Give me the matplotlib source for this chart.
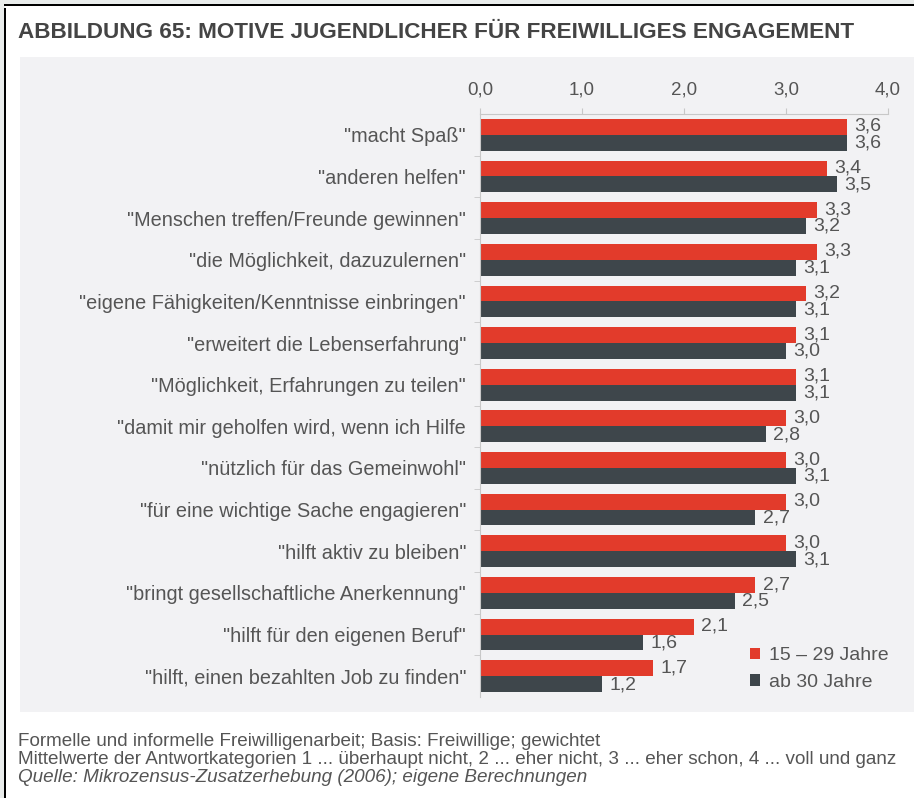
import matplotlib
matplotlib.use("Agg")
import matplotlib.pyplot as plt
from matplotlib.patches import Rectangle

plt.rcParams['font.family'] = ['Liberation Sans', 'DejaVu Sans']

categories = [
    '"macht Spaß"',
    '"anderen helfen"',
    '"Menschen treffen/Freunde gewinnen"',
    '"die Möglichkeit, dazuzulernen"',
    '"eigene Fähigkeiten/Kenntnisse einbringen"',
    '"erweitert die Lebenserfahrung"',
    '"Möglichkeit, Erfahrungen zu teilen"',
    '"damit mir geholfen wird, wenn ich Hilfe',
    '"nützlich für das Gemeinwohl"',
    '"für eine wichtige Sache engagieren"',
    '"hilft aktiv zu bleiben"',
    '"bringt gesellschaftliche Anerkennung"',
    '"hilft für den eigenen Beruf"',
    '"hilft, einen bezahlten Job zu finden"',
]
jung = [3.6, 3.4, 3.3, 3.3, 3.2, 3.1, 3.1, 3.0, 3.0, 3.0, 3.0, 2.7, 2.1, 1.7]
alt = [3.6, 3.5, 3.2, 3.1, 3.1, 3.0, 3.1, 2.8, 3.1, 2.7, 3.1, 2.5, 1.6, 1.2]
xticks = [0, 1, 2, 3, 4]

red = '#e23b2b'
dark = '#3e464b'
textc = '#555555'

W, H = 914, 798
fig = plt.figure(figsize=(W / 100, H / 100), dpi=100)
fig.patch.set_facecolor('#e9eceb')

# white card with black border, grey chart panel (behind the axes)
fig.add_artist(Rectangle((5 / W, 0), 1, 1 - 5 / H, transform=fig.transFigure,
                         facecolor='white', edgecolor='none', zorder=-10))
fig.add_artist(Rectangle((4 / W, -0.01), 2 / W, 1, transform=fig.transFigure,
                         facecolor='black', edgecolor='none', zorder=-9))
fig.add_artist(Rectangle((4 / W, 1 - 6 / H), 1, 2 / H, transform=fig.transFigure,
                         facecolor='black', edgecolor='none', zorder=-9))
fig.add_artist(Rectangle((20 / W, 1 - 712 / H), 1, (712 - 57) / H, transform=fig.transFigure,
                         facecolor='#f2f2f4', edgecolor='none', zorder=-9))

fig.text(18 / W, 1 - 33 / H, 'ABBILDUNG 65: MOTIVE JUGENDLICHER FÜR FREIWILLIGES ENGAGEMENT',
         fontsize=16.2, fontweight='bold', color='#444444', va='center', ha='left')

ax = fig.add_axes([480 / W, 1 - 697 / H, (888 - 480) / W, (697 - 114) / H])
ax.set_facecolor('none')
y = list(range(len(categories)))
h = 0.38
ax.barh([v - 0.19 for v in y], jung, height=h, color=red, label='15 – 29 Jahre')
ax.barh([v + 0.19 for v in y], alt, height=h, color=dark, label='ab 30 Jahre')

for i in y:
    ax.text(jung[i] + 0.07, i - 0.2, f'{jung[i]:.1f}'.replace('.', ','),
            va='center', ha='left', fontsize=14, color=textc)
    ax.text(alt[i] + 0.07, i + 0.2, f'{alt[i]:.1f}'.replace('.', ','),
            va='center', ha='left', fontsize=14, color=textc)

ax.set_xlim(0, 4)
ax.set_ylim(len(categories) - 0.5, -0.5)
ax.set_xticks(xticks)
ax.set_xticklabels([f'{t:.1f}'.replace('.', ',') for t in xticks])
ax.xaxis.tick_top()
ax.tick_params(axis='x', colors='#c8c8c8', labelcolor=textc, labelsize=13.5, length=4, pad=7)
ax.set_yticks(y)
ax.set_yticklabels(categories)
ax.tick_params(axis='y', length=0, labelsize=14.3, labelcolor=textc, pad=10)
ax.set_yticks([v + 0.5 for v in y[:-1]], minor=True)
ax.tick_params(axis='y', which='minor', length=4, color='#c8c8c8')
for s in ['right', 'bottom']:
    ax.spines[s].set_visible(False)
for s in ['top', 'left']:
    ax.spines[s].set_color('#c8c8c8')
    ax.spines[s].set_linewidth(0.8)

ax.legend(loc='lower right', bbox_to_anchor=(1.045, -0.02), frameon=False, fontsize=14,
          handlelength=0.55, handleheight=0.55, handletextpad=0.45, labelspacing=0.5,
          labelcolor=textc)

fig.text(18 / W, 1 - 741 / H, 'Formelle und informelle Freiwilligenarbeit; Basis: Freiwillige; gewichtet',
         fontsize=13.6, color=textc, va='center')
fig.text(18 / W, 1 - 759 / H,
         'Mittelwerte der Antwortkategorien 1 ... überhaupt nicht, 2 ... eher nicht, 3 ... eher schon, 4 ... voll und ganz',
         fontsize=13.6, color=textc, va='center')
fig.text(18 / W, 1 - 778 / H, 'Quelle: Mikrozensus-Zusatzerhebung (2006); eigene Berechnungen',
         fontsize=13.6, color=textc, va='center', style='italic')

fig.savefig('out.png', dpi=100)
